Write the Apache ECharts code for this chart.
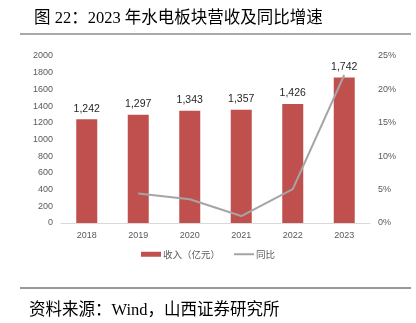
<!DOCTYPE html>
<html><head><meta charset="utf-8">
<script src="https://cdn.jsdelivr.net/npm/echarts@6/dist/echarts.min.js"></script>
<style>html,body{margin:0;padding:0;background:#fff}#c{width:416px;height:323px}</style>
</head><body><div id="c"></div>
<script>
const categories = ['2018','2019','2020','2021','2022','2023'];
const revenue = [1242, 1297, 1343, 1357, 1426, 1742];
const growth = [null, 4.43, 3.55, 1.04, 5.08, 22.16];
const leftTicks = [0, 2000, 200];
const rightTicks = [0, 25, 5];

const chart = echarts.init(document.getElementById('c'), null, {renderer:'canvas'});
const serif = '"Liberation Serif","Noto Sans CJK SC",serif';
chart.setOption({
  animation:false,
  title:{text:'图 22：2023 年水电板块营收及同比增速', left:29, top:5,
    textStyle:{fontFamily:serif, fontSize:16.5, fontWeight:'normal', color:'#000'}},
  graphic:[
    {type:'line', shape:{x1:20,y1:34,x2:411,y2:34}, style:{stroke:'#555',lineWidth:1}},
    {type:'line', shape:{x1:20,y1:288,x2:411,y2:288}, style:{stroke:'#333',lineWidth:1}},
    {type:'text', left:29, top:302, style:{text:'资料来源：Wind，山西证券研究所', fontFamily:serif, fontSize:16.5, fill:'#000'}}
  ],
  grid:{left:61, right:46, top:56, bottom:100},
  legend:{bottom:59, left:'center', itemGap:14, itemWidth:20, itemHeight:5, symbolKeepAspect:true,
    textStyle:{fontSize:9.5, color:'#595959', fontFamily:'"Noto Sans CJK SC",sans-serif', padding:[0,0,0,-3]},
    data:[{name:'收入（亿元）', icon:'rect'}, {name:'同比', icon:'path://M0,0H20V2H0Z', itemStyle:{color:'#A5A5A5'}}]},
  xAxis:{type:'category', data:categories,
    axisLine:{lineStyle:{color:'#D9D9D9'}}, axisTick:{show:false},
    axisLabel:{color:'#595959', fontSize:9, margin:8, fontFamily:'Liberation Sans, sans-serif'}},
  yAxis:[
    {type:'value', min:leftTicks[0], max:leftTicks[1], interval:leftTicks[2], splitLine:{show:false},
     axisLabel:{color:'#595959', fontSize:9, margin:8, formatter:v=>String(v), fontFamily:'Liberation Sans, sans-serif'}},
    {type:'value', min:rightTicks[0], max:rightTicks[1], interval:rightTicks[2], splitLine:{show:false},
     axisLabel:{color:'#595959', fontSize:9, margin:8, formatter:'{value}%', fontFamily:'Liberation Sans, sans-serif'}}
  ],
  series:[
    {name:'收入（亿元）', type:'bar', data:revenue, barWidth:21, itemStyle:{color:'#C0504D'},
     label:{show:true, position:'top', distance:5, color:'#262626', fontSize:10.5, fontFamily:'Liberation Sans, sans-serif',
       formatter:p=>p.value.toLocaleString('en-US')}},
    {name:'同比', type:'line', yAxisIndex:1, data:growth, symbol:'none', connectNulls:false,
     lineStyle:{color:'#A5A5A5', width:2}, itemStyle:{color:'#A5A5A5'}}
  ]
});
</script></body></html>
